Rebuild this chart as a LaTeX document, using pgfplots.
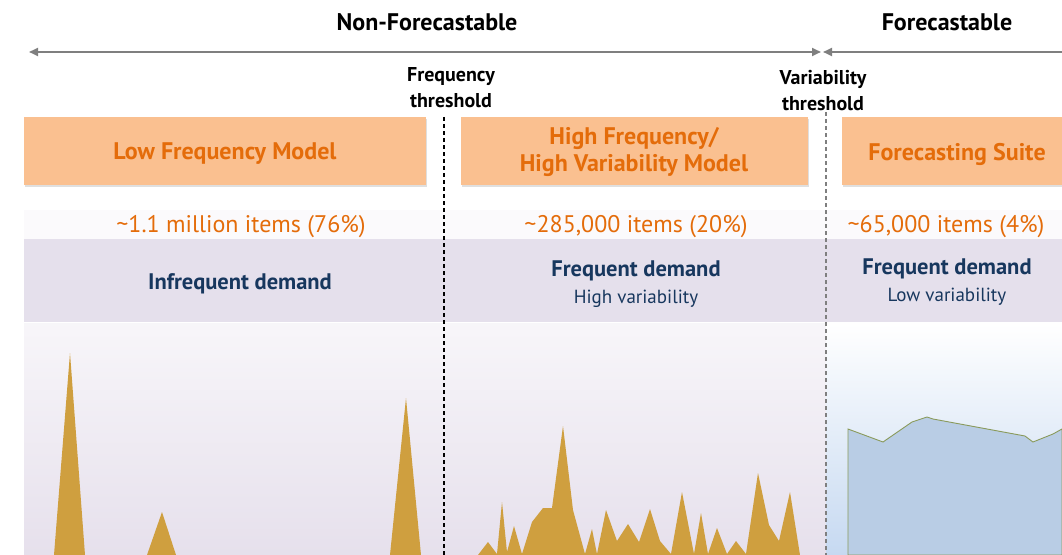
\documentclass[border=0pt]{standalone}
\usepackage{pgfplots}
\pgfplotsset{compat=1.18}
\usepackage{fontspec}
\setmainfont{PT Sans}
\usetikzlibrary{arrows.meta,shadows}

\definecolor{boxfill}{HTML}{FAC090}
\definecolor{boxtext}{HTML}{E46C0A}
\definecolor{band}{HTML}{E5E0EC}
\definecolor{navy}{HTML}{17375E}
\definecolor{gold}{HTML}{CF9F3F}
\definecolor{areablue}{HTML}{B9CDE5}
\definecolor{arealine}{HTML}{8A9A5B}
\definecolor{bgblue}{HTML}{C6D9F1}
\definecolor{bglav}{HTML}{E6E0EC}
\definecolor{arrowgray}{HTML}{7F7F7F}

% font size in bp, with baselineskip
\newcommand{\fs}[2]{\fontsize{#1bp}{#2bp}\selectfont}

\begin{document}
\begin{tikzpicture}
\begin{axis}[
    scale only axis, width=1062bp, height=555bp,
    xmin=0, xmax=1062, ymin=0, ymax=555, y dir=reverse,
    hide axis, clip=true,
]
% backgrounds
\fill[white!85!band] (axis cs:24,210) rectangle (axis cs:1062,239);
\fill[band] (axis cs:24,239) rectangle (axis cs:1062,322);
\fill[top color=white!70!bglav, bottom color=bglav] (axis cs:24,323) rectangle (axis cs:826,555);
\fill[top color=white, bottom color=bgblue] (axis cs:826,323) rectangle (axis cs:1062,555);

% model boxes
\tikzset{mbox/.style={fill=boxfill, draw=none, drop shadow={opacity=0.25, shadow xshift=0.5bp, shadow yshift=-2bp}}}
\fill[mbox] (axis cs:24,117) rectangle (axis cs:426,185);
\fill[mbox] (axis cs:461,117) rectangle (axis cs:808,185);
\fill[mbox] (axis cs:842,117) rectangle (axis cs:1062,185);

% demand series
\addplot[fill=gold, draw=none] coordinates {
    (54,555) (70,353) (85,555)
    (147,555) (162,512) (176,555)
    (390,555) (406,398) (421,555)
} -- cycle;

\addplot[fill=gold, draw=none] coordinates {
    (478,555) (488,542) (497,554) (502,502) (507,552) (514,526) (522,554)
    (532,522) (543,508) (552,508) (563,426) (573,510) (585,554) (592,529)
    (597,554) (606,510) (617,541) (628,524) (639,542) (650,509) (660,541)
    (671,554) (682,492) (694,554) (701,513) (708,554) (717,528) (727,554)
    (736,541) (746,554) (758,473) (769,525) (779,541) (790,492) (800,555)
} -- cycle;

\addplot[fill=areablue, draw=arealine, line width=0.9bp] coordinates {
    (848,555) (848,429) (883,442) (912,422) (927,417) (933,419)
    (1025,436) (1033,442) (1053,434) (1062,429) (1062,555)
} -- cycle;

% thresholds
\draw[black, line width=1.1bp, dash pattern=on 4bp off 3bp] (axis cs:444,117) -- (axis cs:444,555);
\draw[arrowgray, line width=1.3bp, dash pattern=on 4bp off 3bp] (axis cs:826,112) -- (axis cs:826,555);

% top arrows
\draw[arrowgray, line width=2.2bp, {Triangle[length=9bp,width=8bp]}-{Triangle[length=9bp,width=8bp]}] (axis cs:29,52) -- (axis cs:821,52);
\draw[arrowgray, line width=2.2bp, {Triangle[length=9bp,width=8bp]}-] (axis cs:823,52) -- (axis cs:1062,52);

% texts
\node[font=\fs{24}{28}\bfseries] at (axis cs:427,22) {Non-Forecastable};
\node[font=\fs{24}{28}\bfseries] at (axis cs:947,22) {Forecastable};
\node[font=\fs{20}{26}\bfseries, align=center, inner sep=0pt] at (axis cs:451,88) {Frequency\\threshold};
\node[font=\fs{20}{26}\bfseries, align=center, inner sep=0pt] at (axis cs:823,91) {Variability\\threshold};

\node[font=\fs{24}{28}\bfseries, text=boxtext] at (axis cs:225,154) {Low Frequency Model};
\node[font=\fs{24}{27}\bfseries, text=boxtext, align=center, inner sep=0pt] at (axis cs:634,152) {High Frequency/\\High Variability Model};
\node[font=\fs{24}{28}\bfseries, text=boxtext] at (axis cs:957,154) {Forecasting Suite};

\node[font=\fs{24}{28}, text=boxtext] at (axis cs:241,227) {\textasciitilde1.1 million items (76\%)};
\node[font=\fs{24}{28}, text=boxtext] at (axis cs:636,227) {\textasciitilde285,000 items (20\%)};
\node[font=\fs{24}{28}, text=boxtext] at (axis cs:946,227) {\textasciitilde65,000 items (4\%)};

\node[font=\fs{22.5}{26}\bfseries, text=navy] at (axis cs:240,284) {Infrequent demand};
\node[font=\fs{22.5}{26}\bfseries, text=navy] at (axis cs:636,271) {Frequent demand};
\node[font=\fs{19}{22}, text=navy] at (axis cs:636,299) {High variability};
\node[font=\fs{22.5}{26}\bfseries, text=navy] at (axis cs:947,269) {Frequent demand};
\node[font=\fs{19}{22}, text=navy] at (axis cs:947,297) {Low variability};
\end{axis}
\pgfresetboundingbox
\path[use as bounding box] (0,0) rectangle (1062bp,555bp);
\end{tikzpicture}
\end{document}
